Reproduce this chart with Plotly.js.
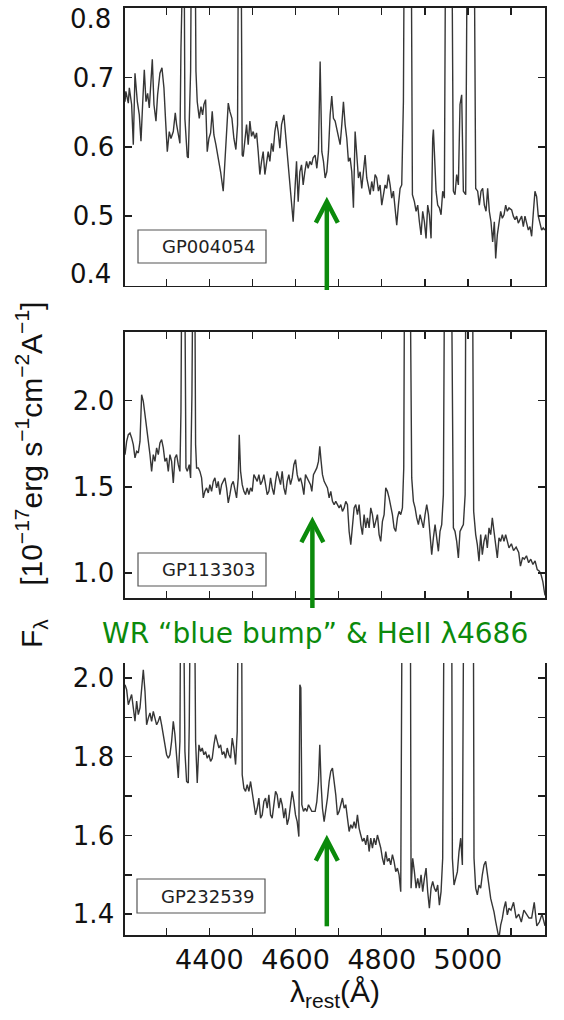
<!DOCTYPE html>
<html><head><meta charset="utf-8">
<script src="https://cdn.plot.ly/plotly-3.0.1.min.js"></script>
<style>html,body{margin:0;padding:0;background:#fff}#chart{width:564px;height:1020px}</style>
</head><body><div id="chart"></div><script>
// ---- data (rest wavelength in Angstrom, flux in 1e-17 erg/s/cm2/A) ----
const wave1 = [
4204,4206,4211.7,4214,4219.4,4223.3,4227.2,4232.6,4237.2,4241.1,
4244.9,4248.8,4252.7,4256.5,4260.4,4264.3,4267.4,4271.2,4275.9,4279.7,
4285.1,4289.8,4294.4,4298.3,4302.2,4306.8,4310.7,4316.1,4320.7,4323.8,
4328.4,4331.5,4333.9,4335.4,4339.3,4340.8,4343.1,4348.5,4350.9,4353.2,
4356.3,4358.6,4366.3,4368.7,4371.7,4376.4,4380.3,4384.1,4387.2,4391.1,
4394.9,4398.8,4402.7,4406.5,4410.4,4415,4420.5,4425.9,4432,4435.9,
4439.8,4443.7,4447.5,4452.2,4456.8,4461.4,4465.3,4467.6,4473,4476.1,
4478.4,4482.3,4486.2,4490,4493.9,4497.8,4501.6,4505.5,4509.4,4513.2,
4517.1,4521,4524.8,4528.7,4532.6,4536.4,4540.3,4544.2,4548,4551.9,
4555.8,4559.6,4563.5,4567.4,4572.8,4577.4,4582.1,4586.7,4590.6,4594.4,
4598.3,4602.2,4606,4609.9,4613.8,4617.6,4621.5,4625.4,4629.2,4633.1,
4637,4640.8,4645.4,4649.3,4653.1,4657,4660.9,4664.7,4668.6,4672.5,
4676.3,4680.2,4684,4687.9,4691.8,4695.7,4699.5,4703.4,4707.3,4711.1,
4715,4718.9,4722.7,4726.6,4730.4,4734.3,4738.2,4742,4745.9,4749.8,
4753.6,4757.5,4761.4,4765.2,4769.1,4773,4776.8,4780.7,4784.6,4788.4,
4792.3,4796.2,4800,4803.9,4807.8,4811.6,4815.5,4819.4,4823.2,4827.1,
4831,4834.8,4838.7,4842.6,4846.4,4850.3,4852.6,4868.1,4871.2,4875.8,
4879.7,4883.5,4887.4,4891.3,4895.1,4899,4902.9,4906.7,4910.6,4914.5,
4918.3,4919.9,4922.2,4926.1,4929.9,4933.8,4937.7,4941.5,4945.4,4948.5,
4962.4,4966.3,4970.1,4974,4977.9,4981.7,4985.6,4989.5,4994.9,4998.8,
5014.2,5018.1,5022.7,5026.6,5030.5,5034.3,5038.2,5042.1,5045.9,5049.8,
5053.6,5057.5,5061.4,5064.5,5068.3,5072.2,5076.1,5079.9,5083.8,5087.7,
5091.5,5095.4,5101.6,5105.5,5109.3,5113.2,5117,5120.9,5124.8,5128.7,
5132.5,5136.4,5140.3,5144.1,5148,5151.8,5155.7,5159.6,5163.4,5167.3,
5171.2,5175,5178.9];
const flux1 = [
0.665,0.680,0.663,0.685,0.661,0.603,0.706,0.665,0.646,0.608,
0.661,0.711,0.665,0.677,0.656,0.706,0.726,0.661,0.637,0.675,
0.706,0.714,0.685,0.637,0.593,0.622,0.612,0.622,0.649,0.632,
0.612,0.605,0.742,0.95,0.95,0.95,0.640,0.586,0.584,0.661,
0.709,0.95,0.95,0.709,0.665,0.641,0.658,0.646,0.661,0.668,
0.593,0.612,0.620,0.651,0.617,0.603,0.584,0.564,0.536,0.574,
0.622,0.663,0.651,0.641,0.612,0.596,0.632,0.95,0.95,0.588,
0.586,0.615,0.632,0.603,0.637,0.615,0.622,0.612,0.620,0.593,
0.560,0.579,0.593,0.560,0.574,0.593,0.579,0.605,0.593,0.622,
0.637,0.622,0.598,0.632,0.646,0.612,0.584,0.555,0.526,0.492,
0.536,0.579,0.521,0.564,0.574,0.545,0.564,0.579,0.569,0.579,
0.574,0.584,0.588,0.569,0.593,0.723,0.593,0.579,0.555,0.564,
0.593,0.646,0.673,0.641,0.637,0.627,0.617,0.603,0.632,0.665,
0.632,0.612,0.579,0.584,0.564,0.512,0.622,0.593,0.555,0.564,
0.540,0.564,0.588,0.555,0.545,0.531,0.550,0.536,0.560,0.555,
0.536,0.545,0.516,0.531,0.545,0.540,0.560,0.545,0.526,0.536,
0.512,0.487,0.516,0.540,0.545,0.665,0.95,0.95,0.531,0.521,
0.507,0.516,0.492,0.473,0.507,0.492,0.468,0.516,0.502,0.468,
0.612,0.625,0.593,0.536,0.516,0.512,0.502,0.536,0.526,0.95,
0.95,0.536,0.531,0.560,0.545,0.661,0.675,0.536,0.531,0.95,
0.95,0.540,0.536,0.516,0.536,0.540,0.516,0.507,0.540,0.507,
0.492,0.463,0.492,0.439,0.473,0.487,0.507,0.497,0.502,0.516,
0.507,0.512,0.509,0.500,0.495,0.500,0.490,0.495,0.500,0.485,
0.500,0.490,0.480,0.485,0.471,0.504,0.536,0.528,0.500,0.490,
0.480,0.483,0.480];

const wave2 = [
4204,4207.8,4211.7,4215.6,4219.4,4223.3,4227.2,4231,4234.9,4238.8,
4242.6,4246.5,4250.4,4254.2,4258.1,4262,4265.8,4269.7,4273.5,4277.4,
4281.3,4285.1,4289,4292.9,4296.7,4300.6,4304.5,4308.3,4312.2,4316.1,
4319.9,4323.8,4327.7,4331.5,4333.9,4335.4,4343.1,4345.5,4348.5,4353.2,
4356.3,4359.4,4361,4366.3,4367.9,4370.2,4374.1,4377.9,4381.8,4385.7,
4389.5,4393.4,4397.3,4401.1,4405,4408.9,4412.7,4416.6,4420.5,4424.3,
4428.2,4432,4435.9,4439.8,4443.7,4447.5,4451.4,4455.3,4459.1,4463,
4466.9,4469.2,4472.3,4476.1,4480,4483.9,4487.7,4491.6,4495.5,4499.3,
4503.2,4507.1,4510.9,4514.8,4518.7,4522.5,4526.4,4530.3,4534.1,4538,
4541.9,4545.7,4549.6,4553.5,4557.3,4561.2,4565.1,4568.9,4572.8,4576.6,
4580.5,4584.4,4588.2,4592.1,4596,4599.8,4603.7,4607.6,4611.4,4615.3,
4619.2,4623,4626.9,4630.8,4634.6,4637.7,4641.5,4645.4,4649.3,4653.1,
4656.2,4659.3,4662.4,4666.3,4670.1,4674,4677.9,4681.7,4685.6,4689.5,
4693.3,4697.2,4701.1,4704.9,4708.8,4712.7,4716.5,4720.4,4724.3,4728.1,
4732,4735.9,4739.7,4743.6,4747.5,4751.3,4755.2,4759.1,4762.9,4766.8,
4770.7,4774.5,4778.4,4782.3,4786.1,4790,4793.9,4797.7,4801.6,4805.5,
4809.3,4813.2,4817.1,4820.9,4824.8,4828.6,4832.5,4836.4,4840.2,4844.1,
4848,4851.1,4852.6,4866.5,4869.6,4873.5,4877.4,4881.2,4885.1,4889,
4892.8,4896.7,4900.6,4904.4,4908.3,4912.2,4916,4919.9,4923.8,4927.6,
4931.5,4935.3,4939.2,4943.1,4945.4,4962.4,4966.3,4970.1,4974,4977.9,
4981.7,4985.6,4989.5,4993.6,4994.9,5011.1,5013.4,5018.1,5021.9,5025.8,
5029.7,5033.5,5037.4,5041.3,5045.1,5049,5052.9,5056.7,5060.6,5064.5,
5068.3,5072.2,5076.1,5079.9,5083.8,5087.7,5091.5,5095.4,5101,5106,
5112,5118,5122,5127,5131,5136,5141,5146,5151,5156,
5161,5166,5170,5174,5177,5179];
const flux2 = [
1.687,1.764,1.803,1.813,1.784,1.745,1.668,1.706,1.697,1.764,
2.035,1.996,1.919,1.842,1.784,1.687,1.590,1.687,1.648,1.726,
1.687,1.755,1.774,1.726,1.648,1.668,1.590,1.687,1.648,1.523,
1.668,1.687,1.629,1.590,1.938,2.6,2.6,1.610,1.590,1.629,
1.552,2.035,2.6,2.6,1.745,1.610,1.610,1.590,1.552,1.436,
1.474,1.494,1.465,1.513,1.474,1.532,1.552,1.494,1.532,1.455,
1.513,1.532,1.552,1.494,1.407,1.455,1.513,1.532,1.474,1.436,
1.552,1.803,1.590,1.513,1.474,1.455,1.494,1.455,1.494,1.474,
1.571,1.552,1.532,1.571,1.513,1.532,1.571,1.513,1.455,1.474,
1.552,1.494,1.455,1.532,1.590,1.552,1.513,1.590,1.494,1.455,
1.532,1.571,1.513,1.552,1.629,1.658,1.571,1.532,1.552,1.513,
1.455,1.571,1.552,1.532,1.513,1.474,1.571,1.590,1.610,1.648,
1.735,1.648,1.571,1.532,1.513,1.494,1.436,1.474,1.416,1.397,
1.416,1.397,1.378,1.397,1.358,1.378,1.416,1.397,1.242,1.165,
1.281,1.378,1.397,1.339,1.397,1.281,1.223,1.339,1.262,1.320,
1.262,1.378,1.339,1.262,1.300,1.339,1.223,1.184,1.300,1.339,
1.494,1.474,1.436,1.397,1.339,1.262,1.242,1.320,1.358,1.339,
1.378,1.610,2.6,2.6,1.552,1.416,1.378,1.320,1.281,1.339,
1.300,1.262,1.339,1.397,1.339,1.223,1.107,1.204,1.281,1.204,
1.126,1.242,1.281,1.455,2.6,2.6,1.262,1.242,1.184,1.088,
1.242,1.262,1.281,1.455,2.6,2.6,1.358,1.223,1.165,1.068,
1.223,1.107,1.184,1.223,1.146,1.262,1.223,1.320,1.242,1.165,
1.088,1.204,1.184,1.223,1.184,1.223,1.184,1.146,1.17,1.13,
1.15,1.12,1.04,1.09,1.08,1.10,1.06,1.08,1.05,1.07,
1.02,1.01,0.99,0.95,0.90,0.87];

const wave3 = [
4204,4207.8,4211.7,4215.6,4219.4,4223.3,4227.2,4231,4234.9,4238.8,
4242.6,4246.5,4250.4,4254.2,4258.1,4262,4265.8,4269.7,4273.5,4277.4,
4281.3,4285.1,4289,4292.9,4296.7,4300.6,4304.5,4308.3,4312.2,4316.1,
4319.9,4323.8,4327.7,4331.5,4333.1,4340,4343.1,4347,4350.9,4353.2,
4355.5,4365.6,4367.9,4371.7,4375.6,4379.5,4383.3,4387.2,4391.1,4394.9,
4398.8,4402.7,4406.5,4410.4,4414.3,4418.1,4422,4425.9,4429.7,4433.6,
4437.5,4441.3,4445.2,4449.1,4452.9,4456.8,4460.7,4464.5,4466.9,4474.6,
4476.1,4480,4483.9,4487.7,4491.6,4495.5,4499.3,4503.2,4507.1,4510.9,
4514.8,4518.7,4522.5,4526.4,4530.3,4534.1,4538,4541.9,4545.7,4549.6,
4553.5,4557.3,4561.2,4565.1,4568.9,4572.8,4576.6,4580.5,4584.4,4588.2,
4592.1,4596,4599.8,4603.7,4607.6,4609.9,4612.2,4614.5,4618.4,4622.3,
4626.1,4630,4633.9,4637.7,4645.4,4649.3,4653.1,4656.2,4659.3,4662.4,
4666.3,4670.1,4674,4677.9,4681.7,4685.6,4689.5,4693.3,4697.2,4701.1,
4704.9,4708.8,4712.7,4716.5,4720.4,4724.3,4728.1,4732,4735.9,4739.7,
4743.6,4747.5,4751.3,4755.2,4759.1,4762.9,4766.8,4770.7,4774.5,4778.4,
4782.3,4786.1,4790,4793.9,4797.7,4801.6,4805.5,4809.3,4813.2,4817.1,
4820.9,4824.8,4828.6,4832.5,4836.4,4840.2,4844.1,4847.2,4866.5,4868.1,
4871.9,4875.8,4879.7,4883.5,4887.4,4891.3,4895.1,4899,4902.9,4906.7,
4910.6,4914.5,4918.3,4922.2,4926.1,4929.9,4933.8,4937.7,4941.5,4944.6,
4962.4,4964,4967.8,4971.7,4975.6,4979.4,4983.3,4987.2,4990.2,5012.7,
5014.2,5018.1,5021.9,5025.8,5029.7,5033.5,5037.4,5041.3,5045.1,5049,
5052.9,5056.7,5060.6,5064.5,5068.3,5072.2,5076.1,5079.9,5083.8,5087.7,
5091.5,5095.4,5100,5106,5112,5118,5124,5130,5136,5142,
5148,5154,5160,5166,5172,5179];
const flux3 = [
1.983,1.970,1.932,1.949,1.958,1.924,1.890,1.941,1.907,1.924,
1.975,2.021,1.966,1.881,1.898,1.911,1.890,1.915,1.898,1.881,
1.890,1.903,1.881,1.856,1.839,1.805,1.796,1.805,1.839,1.890,
1.856,1.805,1.746,1.839,2.2,2.2,1.813,1.737,1.733,1.881,
2.2,2.2,1.839,1.733,1.830,1.813,1.822,1.805,1.813,1.796,
1.805,1.788,1.796,1.830,1.856,1.839,1.822,1.830,1.805,1.813,
1.796,1.822,1.805,1.796,1.847,1.822,1.780,1.864,2.2,2.2,
1.754,1.720,1.712,1.729,1.712,1.737,1.712,1.678,1.652,1.669,
1.695,1.644,1.652,1.686,1.695,1.669,1.703,1.652,1.644,1.678,
1.712,1.703,1.669,1.695,1.678,1.644,1.669,1.627,1.644,1.678,
1.712,1.686,1.652,1.635,1.597,1.983,1.975,1.678,1.661,1.669,
1.661,1.678,1.669,1.661,1.661,1.686,1.737,1.830,1.729,1.669,
1.635,1.661,1.695,1.737,1.763,1.771,1.737,1.703,1.652,1.661,
1.678,1.695,1.669,1.678,1.644,1.610,1.627,1.618,1.635,1.618,
1.652,1.618,1.601,1.585,1.593,1.576,1.601,1.559,1.593,1.568,
1.593,1.576,1.601,1.585,1.568,1.542,1.525,1.559,1.534,1.542,
1.525,1.551,1.534,1.508,1.517,1.500,1.457,2.2,2.2,1.466,
1.542,1.508,1.466,1.491,1.466,1.500,1.457,1.491,1.517,1.457,
1.415,1.466,1.483,1.466,1.457,1.474,1.423,1.457,1.542,2.2,
2.2,1.542,1.474,1.491,1.508,1.559,1.593,1.525,2.2,2.2,
1.542,1.466,1.449,1.474,1.466,1.500,1.525,1.534,1.500,1.466,
1.440,1.423,1.406,1.381,1.355,1.338,1.372,1.389,1.415,1.432,
1.398,1.415,1.41,1.43,1.39,1.40,1.38,1.41,1.40,1.39,
1.39,1.43,1.37,1.38,1.40,1.37];

const names = ['GP004054','GP113303','GP232539'];
const arrowWave = [4672.5, 4639, 4672.5];
const xTickVals = [4400, 4600, 4800, 5000];
const xTickText = ['4400','4600','4800','5000'];
const y1TickVals = [0.4, 0.5, 0.6, 0.7, 0.8];
const y1TickText = ['', '0.5', '0.6', '0.7', ''];   // end labels drawn inset, as in the original
const y1EndLabels = ['0.8', '0.4'];

// ---- layout helpers (pixel geometry of the figure) ----
const L=125, R=545, T=8, B=935;
function py(y){ return (B - y) / (B - T); }
function px(x){ return (x - L) / (R - L); }
const XR = [4204, 5179];
const AX = '#1e1e1e', SPEC = '#363636', GREEN = '#0b8a0b';
const tickFont = {family:'DejaVu Sans, Arial, sans-serif', size:26, color:'#111'};

function xa(anchor, labels, mirror){
  return {anchor:anchor, domain:[0,1], range:XR, showline:true, linecolor:AX, linewidth:1.6,
    mirror:mirror, ticks:'inside', ticklen:7, tickwidth:1.5, tickcolor:AX,
    tickvals:xTickVals, ticktext:xTickText, showticklabels:labels, tickfont:{...tickFont, size:27},
    showgrid:false, zeroline:false, fixedrange:true,
    minor:{dtick:100, tick0:4300, ticks:'inside', ticklen:7, tickwidth:1.5, tickcolor:AX, showgrid:false}};
}
function ya(anchor, domain, range, dtick, minor){
  const o = {anchor:anchor, domain:domain, range:range, dtick:dtick, tick0:0, tickformat:'.1f',
    showline:true, linecolor:AX, linewidth:1.6, mirror:'ticks', ticks:'inside', ticklen:7,
    tickwidth:1.5, tickcolor:AX, tickfont:tickFont, showgrid:false, zeroline:false, fixedrange:true,
    ticklabelstandoff:4};
  if (minor) o.minor = {dtick:minor, tick0:0, ticks:'inside', ticklen:7, tickwidth:1.5, tickcolor:AX, showgrid:false};
  return o;
}

const traces = [
  {x:wave1, y:flux1, xaxis:'x', yaxis:'y', type:'scatter', mode:'lines', line:{color:SPEC, width:1.4}, hoverinfo:'skip', name:names[0]},
  {x:wave2, y:flux2, xaxis:'x2', yaxis:'y2', type:'scatter', mode:'lines', line:{color:SPEC, width:1.4}, hoverinfo:'skip', name:names[1]},
  {x:wave3, y:flux3, xaxis:'x3', yaxis:'y3', type:'scatter', mode:'lines', line:{color:SPEC, width:1.4}, hoverinfo:'skip', name:names[2]}
];

// label boxes and arrows
const boxes = [[138,266,230,263],[138,266,553,586],[137,265,879,913]];
const arrows = [[201.7,290],[521.3,608],[839.7,926.3]];
const shapes = [];
const annotations = [];
const halfW = 11 / ((R - L) / (XR[1] - XR[0]));
boxes.forEach((b,i)=>{
  shapes.push({type:'rect', xref:'paper', yref:'paper', x0:px(b[0]), x1:px(b[1]), y0:py(b[3]), y1:py(b[2]),
    line:{color:'#555', width:1.2}, fillcolor:'rgba(255,255,255,1)', layer:'above'});
  annotations.push({xref:'paper', yref:'paper', x:px(b[1]-8), y:py((b[2]+b[3])/2), xanchor:'right', yanchor:'middle',
    text:names[i], showarrow:false, font:{family:'DejaVu Sans, Arial, sans-serif', size:18, color:'#222'}});
});
arrows.forEach((a,i)=>{
  const w = arrowWave[i];
  shapes.push({type:'path', xref:'x', yref:'paper', path:`M ${w},${py(a[1])} L ${w},${py(a[0]+2)}`,
    line:{color:GREEN, width:4.5}, layer:'above'});
  shapes.push({type:'path', xref:'x', yref:'paper', path:`M ${w-halfW},${py(a[0]+21)} L ${w},${py(a[0])} L ${w+halfW},${py(a[0]+21)}`,
    line:{color:GREEN, width:4.5}, layer:'above'});
});
// inset end labels of the top panel's y axis
[[y1EndLabels[0], 19], [y1EndLabels[1], 274]].forEach(e=>{
  annotations.push({xref:'paper', yref:'paper', x:px(113), y:py(e[1]), xanchor:'right', yanchor:'middle',
    text:e[0], showarrow:false, font:tickFont});
});
annotations.push({xref:'paper', yref:'paper', x:px(31), y:py(475), xanchor:'center', yanchor:'middle', textangle:-90,
  text:'F<sub>λ</sub>\u00a0\u00a0\u00a0\u00a0[10<sup>−17</sup>erg s<sup>−1</sup>cm<sup>−2</sup>A<sup>−1</sup>]',
  showarrow:false, font:{family:'Liberation Sans, Arial, sans-serif', size:30, color:'#111'}});
annotations.push({xref:'paper', yref:'paper', x:px(100), y:py(633), xanchor:'left', yanchor:'middle',
  text:'WR “blue bump” &amp; HeII λ4686', showarrow:false,
  font:{family:'DejaVu Sans, sans-serif', size:28, color:GREEN}});

const x3 = xa('y3', true, false);
x3.title = {text:'λ<sub>rest</sub>(Å)', font:{family:'Liberation Sans, Arial, sans-serif', size:30, color:'#111'}, standoff:6};

const y1 = ya('x', [py(285.6), 1], [0.3999, 0.8001], 0.1);
y1.tickmode = 'array'; y1.tickvals = y1TickVals; y1.ticktext = y1TickText;

const layout = {
  width:564, height:1020, margin:{l:L, r:564-R, t:T, b:1020-B, pad:0},
  paper_bgcolor:'#fff', plot_bgcolor:'#fff', showlegend:false,
  xaxis: xa('y', false, 'ticks'),
  xaxis2: xa('y2', false, 'ticks'),
  xaxis3: x3,
  yaxis: y1,
  yaxis2: ya('x2', [py(598), py(332)], [0.855, 2.399], 0.5),
  yaxis3: ya('x3', [0, py(663)], [1.347, 2.038], 0.2, 0.1),
  shapes: shapes, annotations: annotations
};

Plotly.newPlot('chart', traces, layout, {staticPlot:true, displayModeBar:false});
</script></body></html>
